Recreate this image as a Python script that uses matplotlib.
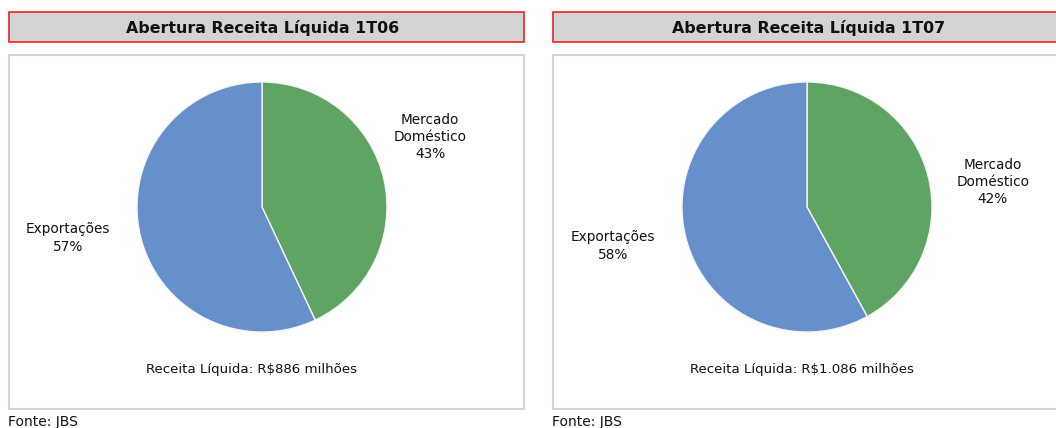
import matplotlib
matplotlib.use("Agg")
import matplotlib.pyplot as plt
from matplotlib.patches import Rectangle

# data
titles = ["Abertura Receita Líquida 1T06", "Abertura Receita Líquida 1T07"]
categories = ["Mercado\nDoméstico", "Exportações"]
shares_1t06 = [43, 57]
shares_1t07 = [42, 58]
totals = ["Receita Líquida: R$886 milhões", "Receita Líquida: R$1.086 milhões"]
source = "Fonte: JBS"

colors = ["#5fa463", "#6690cc"]
W, H = 1056, 428

plt.rcParams['font.family'] = ['DejaVu Sans']
fig = plt.figure(figsize=(W / 100, H / 100), dpi=100)
bg = fig.add_axes([0, 0, 1, 1])
bg.set_xlim(0, W)
bg.set_ylim(H, 0)
bg.axis("off")

panels = [
    dict(x0=9, x1=524, cx=262, title_x=263, dom=(430, 137), exp=(68, 238), total_x=251),
    dict(x0=553, x1=1060, cx=807, title_x=809, dom=(993, 182), exp=(613, 246), total_x=802),
]
cy, r = 207, 125

for i, (p, shares) in enumerate(zip(panels, [shares_1t06, shares_1t07])):
    # title box
    bg.add_patch(Rectangle((p["x0"], 12), p["x1"] - p["x0"], 30, facecolor="#d3d3d5",
                           edgecolor="#ee2222", linewidth=1.2))
    bg.text(p["title_x"], 28, titles[i], ha="center", va="center",
            fontsize=11.4, fontweight="bold", color="#111111")
    # panel box
    bg.add_patch(Rectangle((p["x0"], 55), p["x1"] - p["x0"], 354, facecolor="white",
                           edgecolor="#d4d4d4", linewidth=1.5))
    bg.text(p["x0"] - 1, 422, source, ha="left", va="center", fontsize=10, color="#111111")
    bg.text(p["total_x"], 370, totals[i], ha="center", va="center", fontsize=9.6, color="#111111")
    bg.text(p["dom"][0], p["dom"][1], f"{categories[0]}\n{shares[0]}%", ha="center", va="center",
            fontsize=9.8, color="#111111", linespacing=1.3)
    bg.text(p["exp"][0], p["exp"][1], f"{categories[1]}\n{shares[1]}%", ha="center", va="center",
            fontsize=9.8, color="#111111", linespacing=1.3)

    ax = fig.add_axes([(p["cx"] - r) / W, (H - cy - r) / H, 2 * r / W, 2 * r / H])
    ax.pie(shares, colors=colors, startangle=90, counterclock=False,
           wedgeprops=dict(edgecolor="#f4f4f4", linewidth=1))
    ax.set_xlim(-1, 1)
    ax.set_ylim(-1, 1)
    ax.set_aspect("auto")
    ax.axis("off")

fig.savefig("out.png", dpi=100)
